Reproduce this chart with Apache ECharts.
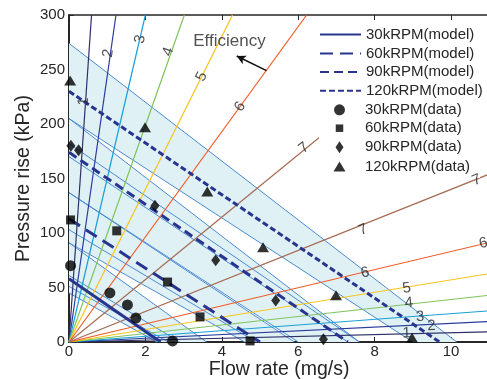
<!DOCTYPE html>
<html><head><meta charset="utf-8">
<script src="https://cdn.jsdelivr.net/npm/echarts@6/dist/echarts.min.js"></script>
<style>html,body{margin:0;padding:0;background:#fff}#c{width:487px;height:379px}</style>
</head><body><div id="c"></div>
<script>
// ---------- data ----------
const xTickLabels = [0, 2, 4, 6, 8, 10];
const yTickLabels = [0, 50, 100, 150, 200, 250, 300];

const modelNames = ['30kRPM(model)', '60kRPM(model)', '90kRPM(model)', '120kRPM(model)'];
const model30  = [[0, 58], [2.4, 0]];
const model60  = [[0, 113], [5.0, 0]];
const model90  = [[0, 174], [7.3, 0]];
const model120 = [[0, 230], [9.7, 0]];

const dataNames = ['30kRPM(data)', '60kRPM(data)', '90kRPM(data)', '120kRPM(data)'];
const data30  = [[0.04, 70], [1.07, 45], [1.53, 34], [1.75, 22], [2.71, 1]];
const data60  = [[0.04, 112], [1.25, 102], [2.58, 55], [3.43, 23], [4.74, 1]];
const data90  = [[0.05, 180], [0.25, 176], [2.25, 125], [3.84, 75], [5.41, 38], [6.66, 2.5]];
const data120 = [[0.03, 240], [1.99, 197], [3.62, 138], [5.08, 87], [6.99, 43], [8.98, 4]];

// uncertainty bands (polygon outlines) and thin model-spread lines
const band120 = [[0, 274], [10.15, 0], [9.0, 0], [0, 205]];
const band90  = [[0, 205], [7.6, 0], [6.0, 0], [0, 137]];
const band60  = [[0, 137], [5.9, 0], [4.6, 0], [0, 91]];
const band30  = [[0, 91], [3.6, 0], [2.3, 0], [0, 45]];
const thinLines = [
  [[0, 274], [10.15, 0]], [[0, 205], [9.0, 0]],
  [[0, 205], [7.6, 0]], [[0, 182], [7.6, 0]], [[0, 170], [7.3, 0]], [[0, 137], [6.0, 0]],
  [[0, 137], [5.9, 0]], [[0, 103], [4.9, 0]], [[0, 91], [4.6, 0]],
  [[0, 91], [3.6, 0]], [[0, 61], [2.9, 0]], [[0, 51], [2.6, 0]], [[0, 45], [2.3, 0]]
];

// efficiency iso-lines (from origin)
const effSteepEnds   = [[0.59, 300], [1.23, 300], [2.0, 300], [3.02, 300], [4.28, 300], [6.22, 300], [6.6, 189]];
const effShallowEnds = [[11, 9.4], [11, 18.7], [11, 28.6], [11, 42.9], [11, 62.7], [11, 91.3], [11, 154]];
// label positions [x, y, text]
const effSteepLabels   = [[0.385, 220.5, '1'], [1.03, 264.9, '2'], [1.86, 277.7, '3'], [2.60, 266.3, '4'], [3.47, 243.4, '5'], [4.48, 215.9, '6'], [6.15, 178, '7']];
const effShallowLabels = [[8.84, 8.0, '1'], [9.49, 14.7, '2'], [9.19, 23.2, '3'], [8.90, 35.8, '4'], [8.84, 49.3, '5'], [7.75, 63.6, '6'], [10.85, 90.5, '6'], [7.70, 102.8, '7'], [10.67, 148.6, '7']];
const effArrow = [[5.17, 249], [4.39, 262.4]];
const effText = [4.2, 276, 'Efficiency'];

// ---------- style ----------
const effColors = ['#2e3067', '#2a3c9c', '#18a0d6', '#7fc45c', '#f7c51c', '#f15a24', '#a56b52'];
const steepRot = [86, 81.8, 76.8, 70.5, 63.4, 54, 39];
const shallowRotByLevel = {'1': 1.4, '2': 2.8, '3': 4.2, '4': 6.4, '5': 9.2, '6': 13.3, '7': 21.8};
const navy = '#28358f';
const thinBlue = '#4a8ad0';
const fillBlue = '#e0f1f6';
const txt = '#262626';
const FONT = 'Liberation Sans, Arial, sans-serif';

function bandSeries(verts) {
  return {
    type: 'custom', silent: true, z: 1, data: verts, clip: true,
    renderItem: function (params, api) {
      if (params.dataIndex !== 0) return;
      return { type: 'polygon', shape: { points: verts.map(v => api.coord(v)) }, style: { fill: fillBlue } };
    }
  };
}
function plainLine(pts, color, width, z) {
  return { type: 'line', data: pts, symbol: 'none', silent: true, z: z, lineStyle: { color: color, width: width }, animation: false };
}

const series = [];
[band120, band90, band60, band30].forEach(b => series.push(bandSeries(b)));
thinLines.forEach(l => series.push(plainLine(l, thinBlue, 1, 2)));
effSteepEnds.forEach((e, i) => series.push(plainLine([[0, 0], e], effColors[i], 1.2, 3)));
effShallowEnds.forEach((e, i) => series.push(plainLine([[0, 0], e], effColors[i], 1.2, 3)));

// efficiency labels
const labelData = [];
effSteepLabels.forEach((l, i) => labelData.push({ value: [l[0], l[1]], name: l[2], label: { rotate: steepRot[i] } }));
effShallowLabels.forEach(l => labelData.push({ value: [l[0], l[1]], name: l[2], label: { rotate: shallowRotByLevel[l[2]] } }));
series.push({
  type: 'scatter', data: labelData, symbolSize: 0, silent: true, z: 6,
  label: { show: true, position: 'inside', formatter: p => p.name, color: txt, fontSize: 15, fontFamily: FONT }
});
series.push({
  type: 'scatter', data: [{ value: [effText[0], effText[1]], name: effText[2] }], symbolSize: 0, silent: true, z: 6,
  label: { show: true, position: 'inside', formatter: p => p.name, color: txt, fontSize: 17, fontFamily: FONT }
});
series.push({
  type: 'line', data: [], silent: true, z: 6,
  markLine: {
    silent: true, symbol: ['none', 'arrow'], symbolSize: [7, 9], label: { show: false },
    lineStyle: { color: '#111', width: 1.5, type: 'solid' },
    data: [[{ coord: effArrow[0] }, { coord: effArrow[1] }]]
  }
});

// model lines
const modelData = [model30, model60, model90, model120];
const modelDash = ['solid', [13, 7], [9, 5], [6, 3]];
modelData.forEach((d, i) => series.push({
  name: modelNames[i], type: 'line', data: d, symbol: 'circle', showSymbol: false, z: 5,
  lineStyle: { color: navy, width: 3, type: modelDash[i] }, itemStyle: { color: navy }
}));
// data points
const dataSets = [data30, data60, data90, data120];
const dataSym = ['circle', 'rect', 'diamond', 'triangle'];
const dataSize = [[11, 11], [9, 9], [9, 12], [12, 10]];
dataSets.forEach((d, i) => series.push({
  name: dataNames[i], type: 'scatter', data: d, symbol: dataSym[i], symbolSize: dataSize[i], z: 7,
  itemStyle: { color: '#000' }
}));

// legend: one row per entry
const legendIcons = [null, null, null, null,
  'path://M0,0M41,12M26,6A5.5,5.5,0,1,1,15,6A5.5,5.5,0,1,1,26,6Z',
  'path://M0,0M41,12M16.75,2.25L24.25,2.25L24.25,9.75L16.75,9.75Z',
  'path://M0,0M41,12M20.5,0L24.5,6L20.5,12L16.5,6Z',
  'path://M0,0M41,12M20.5,1L26.5,11L14.5,11Z'];
const legendRowCenters = [33, 52, 70.5, 89.3, 108.3, 126.7, 145.7, 165];
const legendNames = modelNames.concat(dataNames);
const legends = legendNames.map((n, i) => ({
  data: [legendIcons[i] ? { name: n, icon: legendIcons[i] } : { name: n }],
  orient: 'vertical', left: 319, top: legendRowCenters[i] - 10,
  itemWidth: 41, itemHeight: 12, padding: [4, 10, 4, 0],
  itemStyle: i < 4 ? { opacity: 0 } : {},
  backgroundColor: '#fff', selectedMode: false,
  textStyle: { color: txt, fontSize: 15, lineHeight: 12, fontFamily: FONT }
}));

const chart = echarts.init(document.getElementById('c'), null, { renderer: 'canvas' });
chart.setOption({
  animation: false,
  backgroundColor: '#fff',
  textStyle: { fontFamily: FONT },
  grid: { left: 69, top: 15, width: 420.2, height: 327, containLabel: false, outerBoundsMode: 'none' },
  xAxis: [{
    type: 'value', min: 0, max: 11, interval: 2,
    name: 'Flow rate (mg/s)', nameLocation: 'middle', nameGap: 18, nameMoveOverlap: false,
    nameTextStyle: { color: txt, fontSize: 19.5, fontFamily: FONT },
    axisLine: { show: true, onZero: false, lineStyle: { color: txt, width: 2 } },
    axisTick: { show: true, inside: true, length: 5, lineStyle: { color: txt, width: 1 } },
    axisLabel: { color: txt, fontSize: 15, fontFamily: FONT, margin: 2, formatter: v => (xTickLabels.indexOf(v) >= 0 ? String(v) : '') },
    splitLine: { show: false }
  }, {
    type: 'value', min: 0, max: 11, interval: 2, position: 'top',
    axisLine: { show: true, onZero: false, lineStyle: { color: txt, width: 1.5 } },
    axisTick: { show: true, inside: true, length: 5, lineStyle: { color: txt } },
    axisLabel: { show: false }, splitLine: { show: false }
  }],
  yAxis: [{
    type: 'value', min: 0, max: 300, interval: 50,
    name: 'Pressure rise (kPa)', nameLocation: 'middle', nameGap: 35, nameRotate: 90, nameMoveOverlap: false,
    nameTextStyle: { color: txt, fontSize: 19.5, fontFamily: FONT },
    axisLine: { show: true, onZero: false, lineStyle: { color: txt, width: 2 } },
    axisTick: { show: true, inside: true, length: 5, lineStyle: { color: txt } },
    axisLabel: { color: txt, fontSize: 15, fontFamily: FONT, margin: 4, formatter: v => (yTickLabels.indexOf(v) >= 0 ? String(v) : '') },
    splitLine: { show: false }
  }],
  legend: legends,
  series: series
});
</script></body></html>
